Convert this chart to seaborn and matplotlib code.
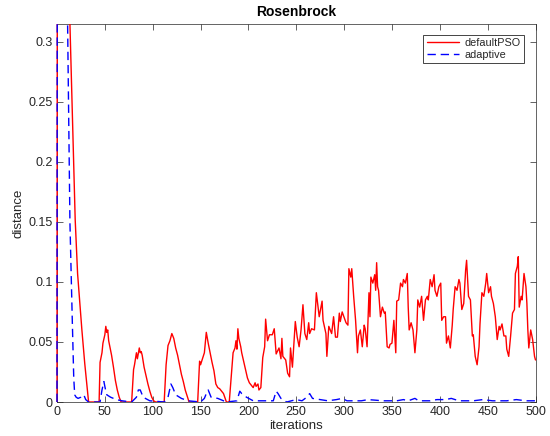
import matplotlib
matplotlib.use("Agg")
import matplotlib.pyplot as plt
from matplotlib.patches import Rectangle
import seaborn as sns
import pandas as pd

# defaultPSO: distance to optimum per iteration
pso_iter = [0, 1, 12, 14, 19, 21.5, 26, 29, 33, 44, 45, 47, 48, 50, 51, 52, 53, 54, 55, 57,
            59, 61, 63, 65, 67, 78, 80, 81, 83, 84, 86, 87, 88, 89, 91, 93, 95, 97, 99, 101,
            103, 112, 114, 116, 118, 120, 122, 124, 126, 128, 130, 132, 134, 136, 138, 147, 149, 150, 152, 154,
            156, 158, 160, 162, 164, 166, 168, 170, 172, 174, 177, 180, 182, 184, 186, 187, 188, 189, 190, 192,
            193, 195, 197, 199, 201, 203, 205, 207, 208, 210, 211, 213, 215, 217, 218, 220, 222, 225, 227, 229,
            232, 234, 235, 236, 239, 241, 243, 244, 246, 249, 251, 253, 255, 257, 259, 261, 263, 264, 266, 269,
            271, 274, 277, 278, 281, 282, 284, 287, 289, 291, 293, 295, 296, 298, 302, 304, 305, 307, 308, 310,
            312, 314, 315, 317, 319, 321, 322, 324, 326, 327, 328, 330, 332, 333, 334, 335, 336, 338, 340, 342,
            343, 345, 347, 348, 350, 352, 354, 355, 357, 359, 361, 362, 364, 366, 367, 368, 370, 372, 374, 376,
            377, 379, 381, 383, 385, 387, 388, 390, 392, 394, 395, 397, 399, 401, 402, 404, 406, 407, 409, 411,
            413, 414, 416, 418, 420, 421, 423, 425, 427, 428, 430, 432, 434, 435, 437, 439, 441, 442, 444, 446,
            448, 449, 451, 453, 454, 456, 458, 460, 462, 463, 465, 467, 469, 470, 472, 474, 476, 478, 479, 481,
            482, 483, 485, 486, 488, 490, 491, 492, 493, 495, 497, 499, 500]
pso_dist = [0.0, 1.2, 0.36, 0.30, 0.152, 0.107, 0.06, 0.032, 0.0, 0.0, 0.033, 0.041, 0.049, 0.056, 0.063, 0.058, 0.06, 0.051, 0.047, 0.039,
            0.029, 0.018, 0.01, 0.004, 0.0, 0.0, 0.027, 0.031, 0.041, 0.036, 0.045, 0.041, 0.042, 0.039, 0.029, 0.022, 0.015, 0.009, 0.004, 0.001,
            0.0, 0.0, 0.031, 0.047, 0.051, 0.057, 0.053, 0.045, 0.039, 0.031, 0.023, 0.017, 0.01, 0.005, 0.0, 0.0, 0.034, 0.031, 0.036, 0.041,
            0.058, 0.049, 0.041, 0.033, 0.026, 0.015, 0.012, 0.011, 0.009, 0.007, 0.0, 0.0, 0.02, 0.041, 0.045, 0.051, 0.044, 0.061, 0.053, 0.046,
            0.041, 0.034, 0.027, 0.02, 0.016, 0.014, 0.012, 0.016, 0.013, 0.015, 0.01, 0.012, 0.037, 0.046, 0.069, 0.051, 0.056, 0.056, 0.061, 0.04,
            0.045, 0.036, 0.053, 0.038, 0.035, 0.024, 0.021, 0.045, 0.029, 0.067, 0.054, 0.046, 0.06, 0.081, 0.057, 0.052, 0.066, 0.057, 0.061, 0.06,
            0.091, 0.071, 0.084, 0.068, 0.057, 0.038, 0.063, 0.057, 0.071, 0.054, 0.054, 0.074, 0.067, 0.075, 0.066, 0.064, 0.111, 0.104, 0.111, 0.088,
            0.068, 0.041, 0.055, 0.06, 0.046, 0.064, 0.061, 0.046, 0.091, 0.071, 0.104, 0.099, 0.106, 0.093, 0.116, 0.096, 0.093, 0.071, 0.079, 0.074,
            0.075, 0.046, 0.045, 0.048, 0.049, 0.068, 0.041, 0.084, 0.085, 0.099, 0.096, 0.102, 0.099, 0.107, 0.079, 0.06, 0.066, 0.06, 0.041, 0.06,
            0.085, 0.079, 0.088, 0.068, 0.085, 0.088, 0.085, 0.102, 0.096, 0.106, 0.093, 0.088, 0.096, 0.099, 0.068, 0.071, 0.071, 0.049, 0.055, 0.045,
            0.064, 0.077, 0.096, 0.093, 0.102, 0.099, 0.077, 0.082, 0.11, 0.118, 0.088, 0.085, 0.055, 0.056, 0.038, 0.031, 0.046, 0.065, 0.091, 0.088,
            0.099, 0.107, 0.091, 0.096, 0.088, 0.082, 0.071, 0.052, 0.063, 0.06, 0.065, 0.055, 0.055, 0.044, 0.038, 0.055, 0.074, 0.077, 0.107, 0.113,
            0.121, 0.079, 0.088, 0.085, 0.107, 0.096, 0.082, 0.06, 0.045, 0.06, 0.052, 0.038, 0.035]

# adaptive variant
ada_iter = [0, 1, 10, 11, 13.5, 16, 17.5, 18.5, 20, 22, 25, 28, 30, 33, 45, 47, 49, 51, 52, 56,
            62, 68, 78, 83, 85, 87, 90, 97, 112, 116, 119, 121, 124, 130, 137, 150, 154, 156, 158, 161,
            168, 177, 188, 191, 193, 198, 205, 226, 229, 231, 234, 240, 250, 256, 261, 264, 267, 275, 283, 292,
            298, 303, 318, 325, 333, 340, 355, 362, 367, 374, 378, 390, 397, 406, 412, 420, 435, 445, 455, 470,
            480, 490, 500]
ada_dist = [0.0, 1.2, 0.5, 0.32, 0.15, 0.067, 0.02, 0.006, 0.004, 0.003, 0.004, 0.006, 0.002, 0.0, 0.0, 0.01, 0.017, 0.009, 0.006, 0.004,
            0.002, 0.001, 0.0, 0.004, 0.01, 0.01, 0.004, 0.001, 0.0, 0.004, 0.015, 0.012, 0.006, 0.003, 0.001, 0.0, 0.003, 0.007, 0.01, 0.004,
            0.003, 0.0, 0.001, 0.009, 0.007, 0.004, 0.001, 0.001, 0.009, 0.007, 0.003, 0.0, 0.002, 0.001, 0.004, 0.007, 0.003, 0.002, 0.001, 0.002,
            0.003, 0.001, 0.001, 0.002, 0.0015, 0.001, 0.001, 0.002, 0.001, 0.003, 0.001, 0.001, 0.002, 0.002, 0.003, 0.001, 0.001, 0.002, 0.001, 0.001,
            0.002, 0.001, 0.001]

x_ticks = [0, 50, 100, 150, 200, 250, 300, 350, 400, 450, 500]
y_ticks = [0, 0.05, 0.1, 0.15, 0.2, 0.25, 0.3]
y_tick_labels = ["0", "0.05", "0.1", "0.15", "0.2", "0.25", "0.3"]

sns.set_style("ticks")
plt.rcParams["font.family"] = ["Liberation Sans", "DejaVu Sans"]
ink = "#262626"

fig = plt.figure(figsize=(5.5, 4.36), dpi=100)
ax = fig.add_axes([57 / 550, 34 / 436, 478.5 / 550, 377.7 / 436])

pso = pd.DataFrame({"iterations": pso_iter, "distance": pso_dist})
ada = pd.DataFrame({"iterations": ada_iter, "distance": ada_dist})

sns.lineplot(data=pso, x="iterations", y="distance", ax=ax, color="#ff0000",
             linewidth=1.0, label="defaultPSO", estimator=None, sort=False)
sns.lineplot(data=ada, x="iterations", y="distance", ax=ax, color="#0000ff",
             linewidth=1.0, label="adaptive", estimator=None, sort=False,
             dashes=False)
ax.lines[1].set_dashes((6, 3.5))
# draw the curves above the frame; clip a little wider on the sides so the
# jump at iteration 0 stays fully visible
clip = Rectangle((-0.006, 0), 1.012, 1, transform=ax.transAxes, fill=False, visible=False)
ax.add_patch(clip)
for ln in ax.lines:
    ln.set_zorder(3)
    ln.set_clip_path(clip)

ax.set_xlim(0, 500)
ax.set_ylim(0, 0.3145)
ax.set_xticks(x_ticks)
ax.set_yticks(y_ticks)
ax.set_yticklabels(y_tick_labels)

for side in ["top", "right", "bottom", "left"]:
    ax.spines[side].set_visible(True)
    ax.spines[side].set_color(ink)
    ax.spines[side].set_linewidth(0.5)
ax.tick_params(direction="in", length=4, width=0.5, color=ink, labelcolor=ink,
               labelsize=9, top=True, right=True, pad=3)

ax.set_xlabel("iterations", fontsize=9.5, color=ink, labelpad=1)
ax.set_ylabel("distance", fontsize=9.5, color=ink, labelpad=3)
ax.set_title("Rosenbrock", fontsize=10, fontweight="bold", color="black", pad=6)

leg = ax.legend(loc="upper right", bbox_to_anchor=(0.976, 0.972), fontsize=7.8,
                frameon=True, fancybox=False, edgecolor=ink, framealpha=1,
                handlelength=3.0, borderpad=0.3, labelspacing=0.15, handletextpad=0.5,
                borderaxespad=0.0)
leg.get_frame().set_linewidth(0.6)
leg.get_lines()[1].set_dashes((6, 3.5))

fig.savefig("out.png", dpi=100)
